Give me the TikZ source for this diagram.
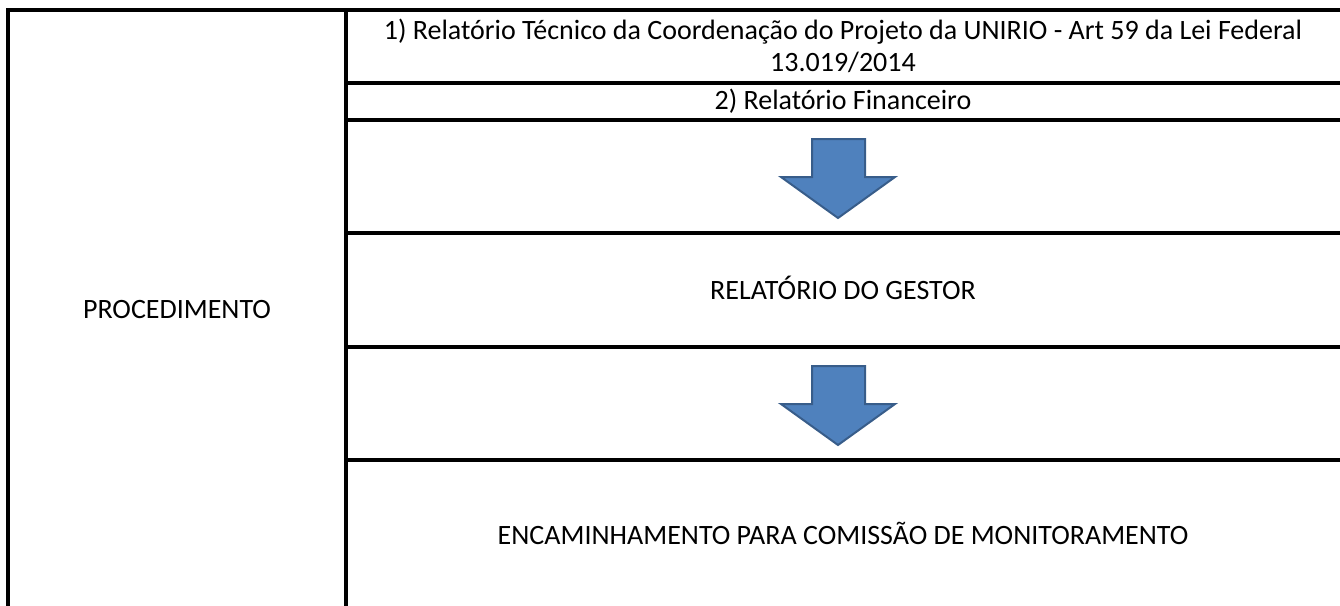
\documentclass[tikz,border=0pt]{standalone}
\usepackage{fontspec}
\setmainfont{Carlito}
\begin{document}
\begin{tikzpicture}[x=1pt,y=-1pt,
  grid/.style={line width=4.3pt,line cap=rect},
  bigarrow/.style={fill={rgb,255:red,79;green,129;blue,189},draw={rgb,255:red,56;green,93;blue,138},line width=2pt,line join=miter},
  txt/.style={font=\fontsize{28}{32}\selectfont,inner sep=0pt,anchor=base}]
\useasboundingbox (0,0) rectangle (1340,605);
% grid lines
\draw[grid] (8,612) -- (8,10) -- (1345,10);
\draw[grid] (346,10) -- (346,612);
\draw[grid] (346,83) -- (1345,83);
\draw[grid] (346,120) -- (1345,120);
\draw[grid] (346,233) -- (1345,233);
\draw[grid] (346,347) -- (1345,347);
\draw[grid] (346,460) -- (1345,460);
% arrows
\foreach \dy/\nm in {0/a1,227/a2}{
  \draw[bigarrow] (812,139+\dy) -- (865,139+\dy) -- (865,177+\dy) -- (895,177+\dy)
     -- (838,218+\dy) -- (781,177+\dy) -- (812,177+\dy) -- cycle;
}
% texts
\node[txt] (proc) at (177,318) {PROCEDIMENTO};
\node[txt] (r1a) at (843,39) {1) Relatório Técnico da Coordenação do Projeto da UNIRIO - Art 59 da Lei Federal};
\node[txt] (r1b) at (843,71) {13.019/2014};
\node[txt] (r2) at (843,109) {2) Relatório Financeiro};
\node[txt] (gest) at (843,299) {RELATÓRIO DO GESTOR};
\node[txt] (enc) at (843,544) {ENCAMINHAMENTO PARA COMISSÃO DE MONITORAMENTO};
\end{tikzpicture}
\end{document}
